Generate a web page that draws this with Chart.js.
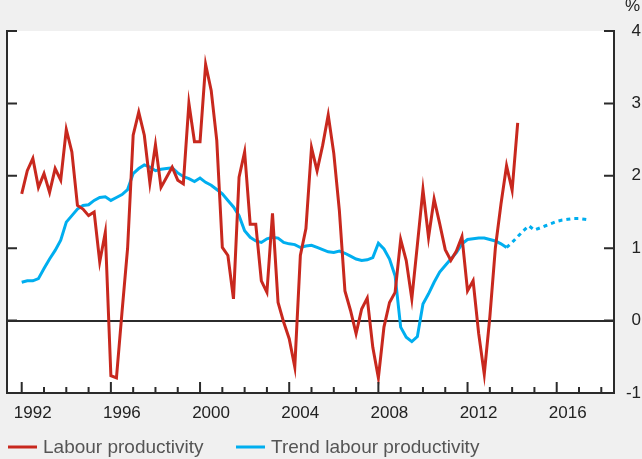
<!DOCTYPE html>
<html>
<head>
<meta charset="utf-8">
<script src="https://cdn.jsdelivr.net/npm/chart.js@4.4.1/dist/chart.umd.min.js"></script>
<style>
  html, body { margin: 0; padding: 0; background: #f0f0f0; }
  #wrap { width: 642px; height: 459px; }
</style>
</head>
<body>
<div id="wrap"><canvas id="line-chart"></canvas></div>
<script>
// quarterly series, first observation 1992 Q1
var firstYear = 1992;

var labourProductivity = [
    1.75, 2.07, 2.24, 1.84, 2.03, 1.77, 2.10, 1.94, 2.64, 2.33,
    1.59, 1.54, 1.45, 1.50, 0.81, 1.22, -0.76, -0.79, 0.12, 1.00,
    2.56, 2.88, 2.56, 1.90, 2.43, 1.84, 1.98, 2.12, 1.94, 1.89,
    3.00, 2.47, 2.47, 3.54, 3.18, 2.49, 1.01, 0.90, 0.30, 1.98,
    2.33, 1.33, 1.33, 0.55, 0.39, 1.48, 0.25, -0.02, -0.25, -0.64,
    0.90, 1.27, 2.39, 2.07, 2.42, 2.84, 2.31, 1.52, 0.41, 0.14,
    -0.18, 0.16, 0.31, -0.37, -0.79, -0.09, 0.25, 0.39, 1.12, 0.83,
    0.30, 1.05, 1.81, 1.15, 1.68, 1.34, 0.98, 0.83, 0.96, 1.16,
    0.41, 0.55, -0.18, -0.74, 0.05, 1.01, 1.61, 2.14, 1.80, 2.73
];

var trendProductivity = [
    0.53, 0.55, 0.55, 0.58, 0.72, 0.85, 0.97, 1.11, 1.36, 1.45,
    1.54, 1.59, 1.60, 1.66, 1.70, 1.71, 1.66, 1.70, 1.74, 1.81,
    2.03, 2.10, 2.15, 2.12, 2.07, 2.09, 2.10, 2.11, 2.04, 1.99,
    1.96, 1.92, 1.97, 1.91, 1.87, 1.81, 1.75, 1.66, 1.57, 1.45,
    1.24, 1.15, 1.10, 1.08, 1.13, 1.15, 1.14, 1.08, 1.06, 1.05,
    1.01, 1.03, 1.04, 1.01, 0.98, 0.95, 0.94, 0.96, 0.93, 0.89,
    0.85, 0.83, 0.84, 0.87, 1.07, 0.99, 0.85, 0.62, -0.09, -0.23,
    -0.29, -0.22, 0.23, 0.37, 0.53, 0.67, 0.76, 0.85, 0.94, 1.06,
    1.12, 1.13, 1.14, 1.14, 1.12, 1.10, 1.06, 1.01
];

// projection starts at the last trend observation (2013 Q4)
var projectionStart = 87;
var trendProjection = [
    1.01, 1.08, 1.16, 1.24, 1.31, 1.25, 1.28, 1.31, 1.34, 1.37,
    1.39, 1.40, 1.41, 1.41, 1.40, 1.39
];

var labelYears = [1992, 1996, 2000, 2004, 2008, 2012, 2016];
var seriesNames = ["Labour productivity", "Trend labour productivity"];
var seriesColours = ["#c8281e", "#00aeef"];

function toPoints(values, offset) {
    return values.map(function (v, i) {
        return { x: firstYear + (i + offset) / 4, y: v };
    });
}

var FONT = "'Liberation Sans', Arial, sans-serif";

var axisDecor = {
    id: 'axisDecor',
    beforeDraw: function (chart) {
        var a = chart.chartArea, c = chart.ctx;
        c.save();
        c.fillStyle = '#ffffff';
        c.fillRect(a.left, a.top, a.right - a.left, a.bottom - a.top);
        c.restore();
    },
    afterDraw: function (chart) {
        var a = chart.chartArea, c = chart.ctx;
        var x = chart.scales.x, y = chart.scales.y;
        c.save();
        c.strokeStyle = '#2b2b2b';
        c.lineWidth = 2;
        c.beginPath();
        c.moveTo(a.left, a.top - 1);
        c.lineTo(a.left, a.bottom + 1);
        y.ticks.forEach(function (t) {
            var py = y.getPixelForValue(t.value);
            c.moveTo(a.left, py);
            c.lineTo(a.left + 10, py);
            c.moveTo(a.right - 10, py);
            c.lineTo(a.right, py);
        });
        x.ticks.forEach(function (t) {
            var px = x.getPixelForValue(t.value);
            var len = labelYears.indexOf(t.value) >= 0 ? 11 : 6;
            c.moveTo(px, a.bottom);
            c.lineTo(px, a.bottom - len);
        });
        c.stroke();

        c.fillStyle = '#222';
        c.font = '17px ' + FONT;
        c.textAlign = 'right';
        c.textBaseline = 'middle';
        c.fillText('%', 640, 6);

        // legend
        var lx = [8, 236], ly = 447;
        c.font = '19px ' + FONT;
        c.textAlign = 'left';
        c.fillStyle = '#555';
        c.lineWidth = 3;
        seriesNames.forEach(function (name, i) {
            c.strokeStyle = seriesColours[i];
            c.beginPath();
            c.moveTo(lx[i], ly);
            c.lineTo(lx[i] + 29, ly);
            c.stroke();
            c.fillText(name, lx[i] + 35, ly + 1);
        });
        c.restore();
    }
};

var ctx = document.getElementById("line-chart");

var LineChart = new Chart(ctx, {
    type: 'line',
    data: {
        datasets: [{
            label: seriesNames[0],
            data: toPoints(labourProductivity, 0),
            borderColor: seriesColours[0],
            borderWidth: 3,
            pointRadius: 0,
            order: 1
        }, {
            label: seriesNames[1],
            data: toPoints(trendProductivity, 0),
            borderColor: seriesColours[1],
            borderWidth: 3,
            pointRadius: 0,
            order: 2
        }, {
            label: 'Projection',
            data: toPoints(trendProjection, projectionStart),
            borderColor: seriesColours[1],
            borderWidth: 3,
            borderDash: [4, 4],
            pointRadius: 0,
            order: 2
        }]
    },
    options: {
        responsive: true,
        maintainAspectRatio: false,
        animation: false,
        layout: { padding: { left: 7, top: 31, right: 1, bottom: 0 } },
        plugins: {
            legend: { display: false },
            tooltip: { enabled: false }
        },
        scales: {
            x: {
                type: 'linear',
                min: 1991.34,
                max: 2018.57,
                afterFit: function (s) {
                    s.height = 66;
                    s.paddingLeft = 0;
                    s.paddingRight = 0;
                },
                grid: { drawOnChartArea: false, drawTicks: false },
                border: { display: true, color: '#2b2b2b', width: 2 },
                ticks: {
                    stepSize: 1,
                    includeBounds: false,
                    autoSkip: false,
                    maxRotation: 0,
                    labelOffset: 11,
                    padding: 10,
                    color: '#222',
                    font: { family: FONT, size: 17 },
                    callback: function (v) {
                        return labelYears.indexOf(v) >= 0 ? String(v) : '';
                    }
                }
            },
            y: {
                position: 'right',
                min: -1,
                max: 4,
                afterFit: function (s) { s.width = 27; },
                grid: {
                    drawTicks: false,
                    lineWidth: 2,
                    color: function (c) {
                        return c.tick && c.tick.value === 0 ? '#2b2b2b' : 'rgba(0,0,0,0)';
                    }
                },
                border: { display: true, color: '#2b2b2b', width: 2 },
                ticks: {
                    stepSize: 1,
                    crossAlign: 'far',
                    padding: 12,
                    color: '#222',
                    font: { family: FONT, size: 17 }
                }
            }
        }
    },
    plugins: [axisDecor]
});
</script>
</body>
</html>
